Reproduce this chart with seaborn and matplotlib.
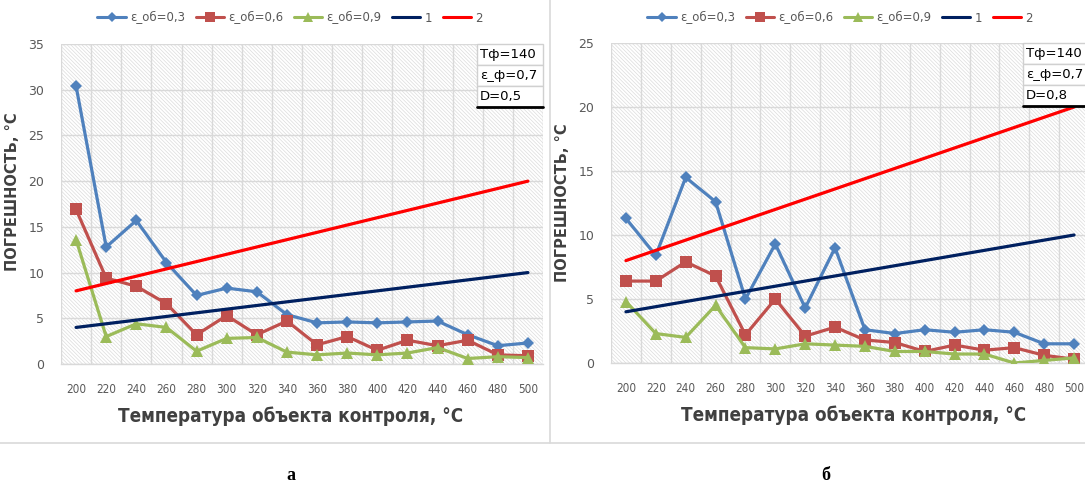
import matplotlib
matplotlib.use("Agg")
import matplotlib.pyplot as plt
from matplotlib.patches import Rectangle
from matplotlib.lines import Line2D
import numpy as np
import pandas as pd
import seaborn as sns

sns.set_theme(style="white")
plt.rcParams["font.family"] = ["DejaVu Sans"]
plt.rcParams["hatch.linewidth"] = 0.5

# ---- data -------------------------------------------------------------
temps = [200, 220, 240, 260, 280, 300, 320, 340, 360, 380, 400, 420, 440, 460, 480, 500]

# panel "а" (D=0,5)
a_eps03 = [30.4, 12.8, 15.7, 11.1, 7.5, 8.3, 7.9, 5.4, 4.5, 4.6, 4.5, 4.6, 4.7, 3.2, 2.0, 2.3]
a_eps06 = [16.9, 9.4, 8.5, 6.6, 3.2, 5.3, 3.2, 4.7, 2.1, 3.0, 1.5, 2.6, 2.0, 2.6, 1.0, 0.9]
a_eps09 = [13.6, 3.0, 4.4, 4.0, 1.4, 2.8, 2.9, 1.3, 1.0, 1.2, 1.0, 1.2, 1.8, 0.6, 0.8, 0.7]

# panel "б" (D=0,8)
b_eps03 = [11.3, 8.4, 14.5, 12.6, 5.0, 9.3, 4.3, 9.0, 2.6, 2.3, 2.6, 2.4, 2.6, 2.4, 1.5, 1.5]
b_eps06 = [6.4, 6.4, 7.9, 6.8, 2.2, 5.0, 2.1, 2.8, 1.8, 1.6, 0.9, 1.4, 1.0, 1.2, 0.6, 0.3]
b_eps09 = [4.8, 2.3, 2.0, 4.5, 1.2, 1.1, 1.5, 1.4, 1.3, 0.9, 0.9, 0.7, 0.7, 0.0, 0.2, 0.4]

# reference limits 1 and 2
limit1 = [4.0, 4.4, 4.8, 5.2, 5.6, 6.0, 6.4, 6.8, 7.2, 7.6, 8.0, 8.4, 8.8, 9.2, 9.6, 10.0]
limit2 = [8.0, 8.8, 9.6, 10.4, 11.2, 12.0, 12.8, 13.6, 14.4, 15.2, 16.0, 16.8, 17.6, 18.4, 19.2, 20.0]

series_labels = ["ε_об=0,3", "ε_об=0,6", "ε_об=0,9", "1", "2"]
colors = ["#4F81BD", "#C0504D", "#9BBB59", "#002060", "#FF0000"]
markers = ["D", "s", "^", None, None]
msizes = [6.5, 9, 8, 0, 0]

params_a = ["Тф=140", "ε_ф=0,7", "D=0,5"]
params_b = ["Тф=140", "ε_ф=0,7", "D=0,8"]

ylabel = "ПОГРЕШНОСТЬ, °С"
xlabel = "Температура объекта контроля, °С"

fig = plt.figure(figsize=(10.85, 4.83), dpi=100)

grid_c = "#D9D9D9"
txt_c = "#595959"


def draw_panel(rect, ys, ymax, params, legend_x, ylab_y, xlab_x):
    ax = fig.add_axes(rect)
    ax.set_facecolor("white")
    pos = np.arange(len(temps))
    w_px = rect[2] * 1085
    h_px = rect[3] * 483
    # hatched plot area
    ax.add_patch(Rectangle((0, 0), 1, 1, transform=ax.transAxes, facecolor="white",
                           edgecolor="#DCDCDC", hatch="\\" * 9, linewidth=0, zorder=0))
    for yv, lab, c, m, ms in zip(ys, series_labels, colors, markers, msizes):
        df = pd.DataFrame({"x": pos, "y": yv})
        sns.lineplot(data=df, x="x", y="y", ax=ax, color=c, marker=m, markersize=ms,
                     markeredgewidth=0, linewidth=2.3, zorder=3, legend=False,
                     markeredgecolor=c)
    ax.set_xlim(-0.5, len(temps) - 0.5)
    ax.set_ylim(0, ymax)
    ax.set_yticks(np.arange(0, ymax + 1, 5))
    ax.set_xticks(pos)
    ax.set_xticklabels([str(t) for t in temps], fontsize=8.5, color=txt_c, fontstretch="condensed")
    ax.set_xticks(np.arange(-0.5, len(temps), 1), minor=True)
    ax.tick_params(axis="y", labelsize=9, labelcolor=txt_c, length=0, pad=12)
    ax.tick_params(axis="x", which="major", length=0, pad=14)
    ax.tick_params(axis="x", which="minor", length=5, color=grid_c, width=1, direction="out")
    ax.grid(True, axis="y", which="major", color=grid_c, linewidth=1, zorder=1)
    ax.grid(True, axis="x", which="minor", color=grid_c, linewidth=1, zorder=1)
    ax.grid(False, axis="x", which="major")
    ax.set_axisbelow(True)
    for s in ["top", "right", "left"]:
        ax.spines[s].set_visible(False)
    ax.spines["bottom"].set_color(grid_c)
    ax.spines["bottom"].set_linewidth(1)
    ax.set_xlabel(xlabel, fontsize=13.5, fontweight="bold", color="#404040",
                  fontstretch="condensed")
    ax.xaxis.set_label_coords(xlab_x, -52 / h_px)
    ax.xaxis.label.set_va("center")
    ax.set_ylabel(ylabel, fontsize=10.5, fontweight="bold", color="#404040")
    ax.yaxis.set_label_coords(-41 / w_px, ylab_y)

    # parameter box in upper right corner
    row_h = 0.066
    box_w = 66 / w_px
    x0 = 1.0 - box_w
    for i, t in enumerate(params):
        y0 = 1.0 - (i + 1) * row_h
        ax.add_patch(Rectangle((x0, y0), box_w, row_h, transform=ax.transAxes,
                               facecolor="white", edgecolor="#D0D0D0", linewidth=1,
                               zorder=5, clip_on=False))
        ax.text(x0 + 0.006, y0 + row_h / 2, t, transform=ax.transAxes, fontsize=9.5,
                color="black", va="center", ha="left", zorder=6)
    ax.plot([x0, x0 + box_w], [1 - 3 * row_h, 1 - 3 * row_h], transform=ax.transAxes,
            color="black", linewidth=2, zorder=7, clip_on=False)

    handles = [Line2D([], [], color=c, marker=m if m else None, markersize=ms * 0.85,
                      markeredgewidth=0, linewidth=2.2)
               for c, m, ms in zip(colors, markers, msizes)]
    fig.legend(handles, series_labels, loc="center", bbox_to_anchor=(legend_x, 1 - 18 / 483),
               ncol=5, frameon=False, fontsize=8.5, handlelength=2.4, columnspacing=0.9,
               handletextpad=0.35, labelcolor=txt_c)
    return ax


ax_a = draw_panel([61 / 1085, 1 - 364 / 483, 482 / 1085, 320 / 483],
                  [a_eps03, a_eps06, a_eps09, limit1, limit2], 35, params_a, 290 / 1085,
                  0.54, (291 - 61) / 482)
ax_b = draw_panel([611 / 1085, 1 - 363 / 483, 478 / 1085, 320 / 483],
                  [b_eps03, b_eps06, b_eps09, limit1, limit2], 25, params_b, 840 / 1085,
                  0.50, (854 - 611) / 478)

# panel separators
fig.add_artist(Line2D([550 / 1085, 550 / 1085], [1 - 443 / 483, 1], color=grid_c, linewidth=1.2))
fig.add_artist(Line2D([0, 1], [1 - 443 / 483, 1 - 443 / 483], color=grid_c, linewidth=1.2))

# panel captions
fig.text(291 / 1085, 1 - 476 / 483, "а", fontsize=13, fontweight="bold", family="Liberation Serif",
         ha="center", va="center", color="black")
fig.text(826 / 1085, 1 - 476 / 483, "б", fontsize=13, fontweight="bold", family="Liberation Serif",
         ha="center", va="center", color="black")

fig.savefig("out.png", dpi=100, facecolor="white")
